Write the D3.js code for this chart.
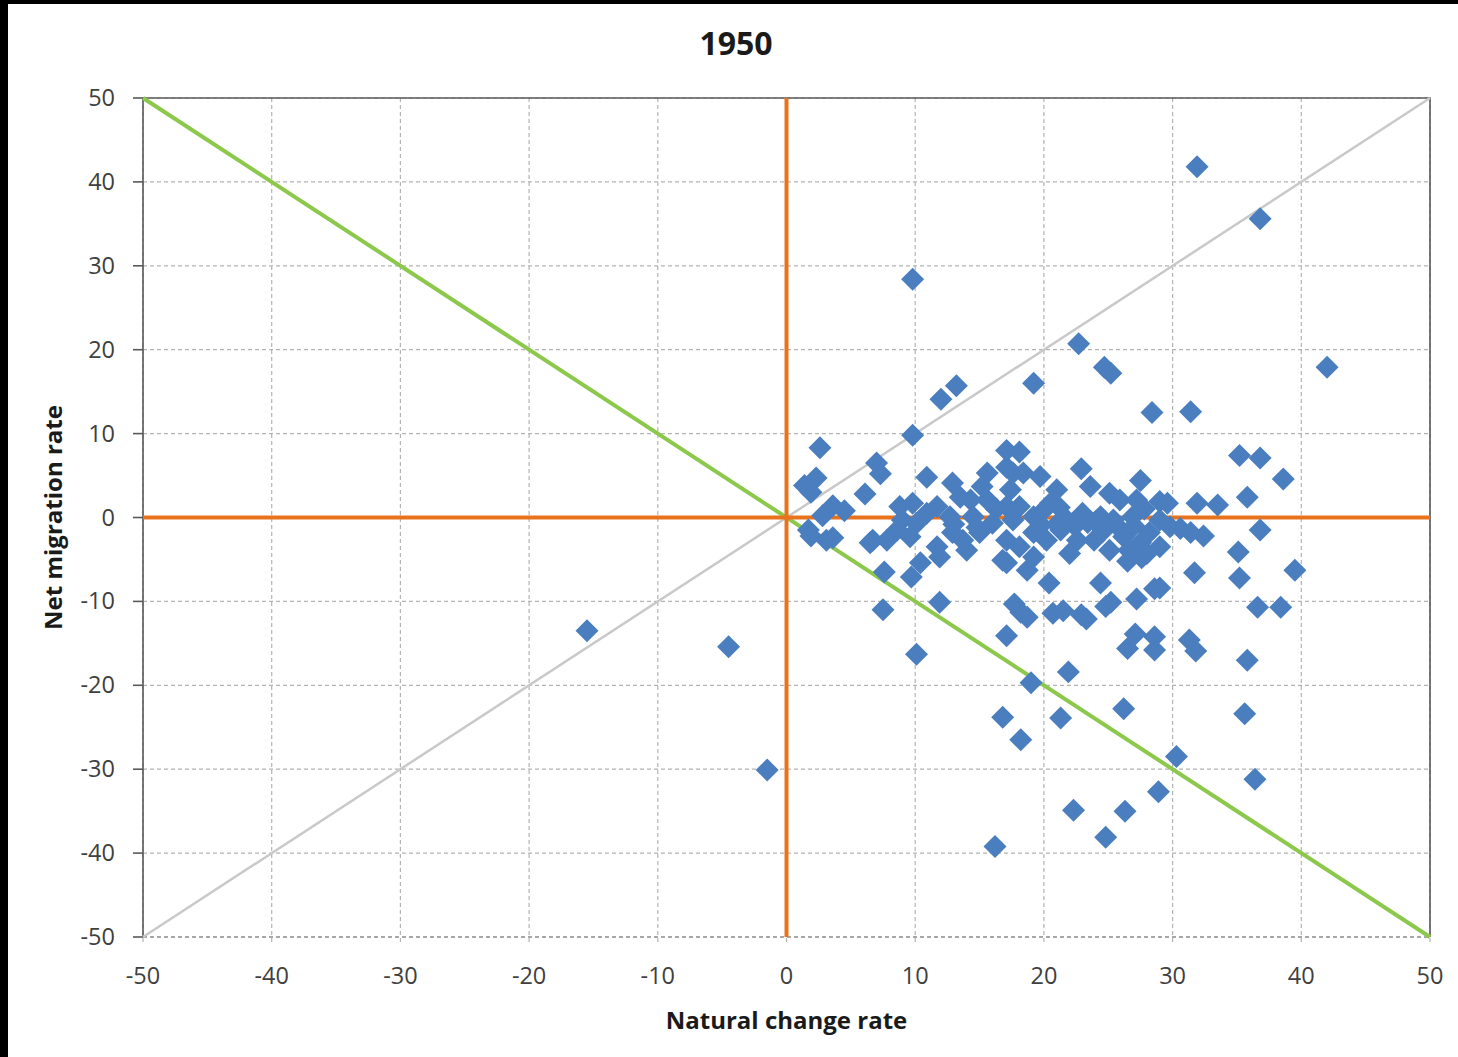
<!DOCTYPE html>
<html>
<head>
<meta charset="utf-8">
<script src="https://cdn.jsdelivr.net/npm/d3@7"></script>
<style>
    html, body { margin: 0; padding: 0; background: #000; overflow: hidden; }
    #chart { position: absolute; left: 8px; top: 4px; right: 0; bottom: 0; background: #fff; overflow: hidden; }
    .tickLabel { font-family: "Open Sans", "Noto Sans", sans-serif; font-size: 23.5px; fill: #404040; }
    .axisTitle { font-family: "Open Sans", "Noto Sans", sans-serif; font-size: 24px; font-weight: bold; fill: #1a1a1a; }
    .chartTitle { font-family: "Open Sans", "Noto Sans", sans-serif; font-size: 32px; font-weight: bold; fill: #1a1a1a; }
</style>
</head>
<body>
<div id="chart"></div>
<script>

// chart values
var chartTitle = "1950";
var xTitle = "Natural change rate";
var yTitle = "Net migration rate";
var tickValues = [-50, -40, -30, -20, -10, 0, 10, 20, 30, 40, 50];

// natural change rate (x) and net migration rate (y), one entry per country
var naturalChange = [
    31.9, 36.8, 9.8, 22.7, 24.7, 25.2, 42.0, 19.2, 13.2, 12.0, 28.4, 31.4, 9.8, 2.6, 17.1, 18.1,
    35.2, 36.8, 7.0, 7.3, 22.9, 38.6, 27.5, 2.3, 1.4, 1.9, 6.1, 35.8, 33.5, 31.9, 29.6, 29.0,
    1.7, 1.9, 3.1, 3.6, 2.8, 3.6, 4.5, 6.5,
    35.1, 36.8, 32.4, 35.2, 31.7, 39.5, 36.6, 38.4, 29.0, 28.6, 24.4, 27.2, 25.2, 24.8, 20.4, 17.1,
    7.6, 9.7, 7.5, 11.9, 17.7, 18.2, 18.7, 20.7, 21.5, 22.9, 23.3, 17.1, 27.1, 28.6, 31.3, 31.8,
    26.5, 28.6, 10.1, 35.8, 21.9, 19.0, 16.8, 21.3, 26.2, 35.6, 18.2, 30.3, -1.5, 36.4, 28.9, 22.3,
    26.3, 24.8, 16.2, -15.5, -4.5,
    10.9, 12.9, 8.8, 9.8, 9.0, 10.1, 8.6, 9.6, 10.9, 11.7, 6.7, 7.8, 10.4, 11.7, 11.9, 14.0,
    13.7, 16.8, 15.6, 14.3, 15.6, 14.5, 16.0, 17.1, 17.6, 15.0, 17.1, 12.7, 13.5, 12.9,
    17.1, 18.4, 19.7, 23.6, 21.0, 20.5, 17.4, 18.1, 19.2, 21.8, 23.0, 25.1, 25.9, 27.2, 26.9, 25.4,
    24.4, 29.8, 29.0, 28.2, 29.0, 27.5, 26.2, 25.1, 23.9, 22.6, 21.3, 20.2, 19.2, 17.6, 18.1, 19.2,
    18.7, 22.0, 26.0, 28.0, 26.6, 30.6, 31.4, 19.8, 20.0, 21.0, 14.8, 24.0, 27.8,
    22.4, 24.6, 27.0, 27.6, 26.5, 16.3, 15.2, 13.0, 23.4, 21.2
];
var netMigration = [
    41.8, 35.6, 28.4, 20.7, 17.9, 17.2, 17.9, 16.0, 15.7, 14.1, 12.5, 12.6, 9.8, 8.3, 8.0, 7.8,
    7.4, 7.1, 6.5, 5.2, 5.8, 4.6, 4.4, 4.7, 3.8, 3.0, 2.8, 2.4, 1.5, 1.7, 1.7, 1.9,
    -1.5, -2.2, -2.7, -2.4, 0.2, 1.4, 0.8, -3.0,
    -4.1, -1.5, -2.2, -7.2, -6.6, -6.3, -10.7, -10.7, -8.4, -8.5, -7.8, -9.7, -10.1, -10.6, -7.8, -5.4,
    -6.5, -7.1, -11.0, -10.1, -10.3, -11.3, -11.9, -11.4, -11.1, -11.6, -12.1, -14.1, -13.9, -14.2, -14.6, -15.9,
    -15.6, -15.8, -16.3, -17.0, -18.4, -19.7, -23.8, -23.9, -22.8, -23.4, -26.5, -28.5, -30.1, -31.2, -32.7, -34.9,
    -35.0, -38.1, -39.2, -13.5, -15.4,
    4.8, 4.1, 1.3, 1.7, -0.3, -0.7, -1.5, -2.3, 0.5, 1.3, -2.7, -2.7, -5.4, -3.5, -4.7, -3.9,
    -2.7, -5.1, 5.3, 2.1, 2.1, 0.1, -0.7, 1.3, 5.3, -1.8, -2.7, 0.1, 2.4, -1.8,
    6.0, 5.3, 4.9, 3.7, 3.3, 1.7, 3.3, 1.3, 0.1, -0.3, 0.5, 2.9, 2.1, 2.1, 0.1, -0.3,
    0.1, -1.1, -0.3, -1.8, -3.5, -3.0, -2.3, -3.9, -2.7, -2.7, -1.5, -2.7, -1.8, -0.3, -3.5, -4.7,
    -6.3, -4.3, -1.5, -4.3, -3.9, -1.3, -1.8, -0.9, 0.9, -0.8, -1.2, -0.5, 1.0,
    -1.0, -1.6, -1.0, -4.8, -5.2, 1.0, 3.7, -0.8, -0.6, 1.2
];

/**
 * Constructor for the scatter chart
 */
function MigrationChart(){
    var self = this;
    self.init();
};

/**
 * Sets up the svg and the scales
 */
MigrationChart.prototype.init = function(){
    var self = this;
    // plot area in page pixels, the div is shifted by the black frame
    self.offset = {left: 8, top: 4};
    self.margin = {top: 98, right: 1458 - 1430, bottom: 1057 - 937, left: 143};
    self.width = 1458;
    self.height = 1057;

    var div = d3.select("#chart");
    self.svg = div.append("svg")
        .attr("width", self.width)
        .attr("height", self.height)
        .append("g")
        .attr("transform", "translate(" + (-self.offset.left) + "," + (-self.offset.top) + ")");

    self.xScale = d3.scaleLinear().domain([-50, 50])
        .range([self.margin.left, self.width - self.margin.right]);
    self.yScale = d3.scaleLinear().domain([-50, 50])
        .range([self.height - self.margin.bottom, self.margin.top]);
};

/**
 * Draws grid, reference lines, points and the texts
 */
MigrationChart.prototype.update = function(){
    var self = this;
    var x = self.xScale, y = self.yScale;
    var x0 = x.range()[0], x1 = x.range()[1];
    var yTop = y.range()[1], yBot = y.range()[0];

    //dashed grid, vertical lines run a little below the plot as tick marks
    self.svg.selectAll(".vgrid").data(tickValues).enter().append("line")
        .attr("class", "vgrid")
        .attr("x1", function(d){ return x(d); }).attr("x2", function(d){ return x(d); })
        .attr("y1", yTop).attr("y2", yBot + 8)
        .attr("stroke", "#b3b3b3").attr("stroke-width", 1.2).attr("stroke-dasharray", "4,3");
    self.svg.selectAll(".hgrid").data(tickValues).enter().append("line")
        .attr("class", "hgrid")
        .attr("x1", x0).attr("x2", x1)
        .attr("y1", function(d){ return y(d); }).attr("y2", function(d){ return y(d); })
        .attr("stroke", function(d){ return d == -50 ? "#8c8c8c" : "#b3b3b3"; })
        .attr("stroke-width", function(d){ return d == -50 ? 1.6 : 1.2; })
        .attr("stroke-dasharray", "4,3");

    //solid frame on top, left and right
    self.svg.append("path")
        .attr("d", "M" + x0 + "," + yBot + "V" + yTop + "H" + x1 + "V" + yBot)
        .attr("fill", "none").attr("stroke", "#595959").attr("stroke-width", 1.6);

    //y tick marks
    self.svg.selectAll(".ytick").data(tickValues).enter().append("line")
        .attr("class", "ytick")
        .attr("x1", x0 - 10).attr("x2", x0)
        .attr("y1", function(d){ return y(d); }).attr("y2", function(d){ return y(d); })
        .attr("stroke", "#595959").attr("stroke-width", 1.6);

    //reference lines: y = x in grey, y = -x in green, zero lines in orange
    self.svg.append("line")
        .attr("x1", x(-50)).attr("y1", y(-50)).attr("x2", x(50)).attr("y2", y(50))
        .attr("stroke", "#c9c9c9").attr("stroke-width", 2.5);
    self.svg.append("line")
        .attr("x1", x(-50)).attr("y1", y(50)).attr("x2", x(50)).attr("y2", y(-50))
        .attr("stroke", "#8cc84b").attr("stroke-width", 4);
    self.svg.append("line")
        .attr("x1", x(0)).attr("y1", yTop).attr("x2", x(0)).attr("y2", yBot)
        .attr("stroke", "#e8731c").attr("stroke-width", 4);
    self.svg.append("line")
        .attr("x1", x0).attr("y1", y(0)).attr("x2", x1).attr("y2", y(0))
        .attr("stroke", "#e8731c").attr("stroke-width", 4);

    //diamonds
    var points = naturalChange.map(function(d, i){ return {x: d, y: netMigration[i]}; });
    var halfDiag = 11.5;
    var diamond = d3.symbol().type(d3.symbolSquare).size(2 * halfDiag * halfDiag);
    self.svg.selectAll(".point").data(points).enter().append("path")
        .attr("class", "point")
        .attr("d", diamond)
        .attr("transform", function(d){ return "translate(" + x(d.x) + "," + y(d.y) + ") rotate(45)"; })
        .attr("fill", "#4a7ebf");

    //tick labels
    self.svg.selectAll(".xlabel").data(tickValues).enter().append("text")
        .attr("class", "tickLabel")
        .attr("x", function(d){ return x(d); }).attr("y", yBot + 47)
        .attr("text-anchor", "middle")
        .text(function(d){ return d; });
    self.svg.selectAll(".ylabel").data(tickValues).enter().append("text")
        .attr("class", "tickLabel")
        .attr("x", x0 - 28).attr("y", function(d){ return y(d) + 8; })
        .attr("text-anchor", "end")
        .text(function(d){ return d; });

    //titles
    self.svg.append("text").attr("class", "chartTitle")
        .attr("x", 736).attr("y", 55).attr("text-anchor", "middle")
        .text(chartTitle);
    self.svg.append("text").attr("class", "axisTitle")
        .attr("x", x(0)).attr("y", 1029).attr("text-anchor", "middle")
        .text(xTitle);
    self.svg.append("text").attr("class", "axisTitle")
        .attr("transform", "translate(62," + y(0) + ") rotate(-90)")
        .attr("text-anchor", "middle")
        .text(yTitle);
};

var chart = new MigrationChart();
chart.update();
</script>
</body>
</html>
